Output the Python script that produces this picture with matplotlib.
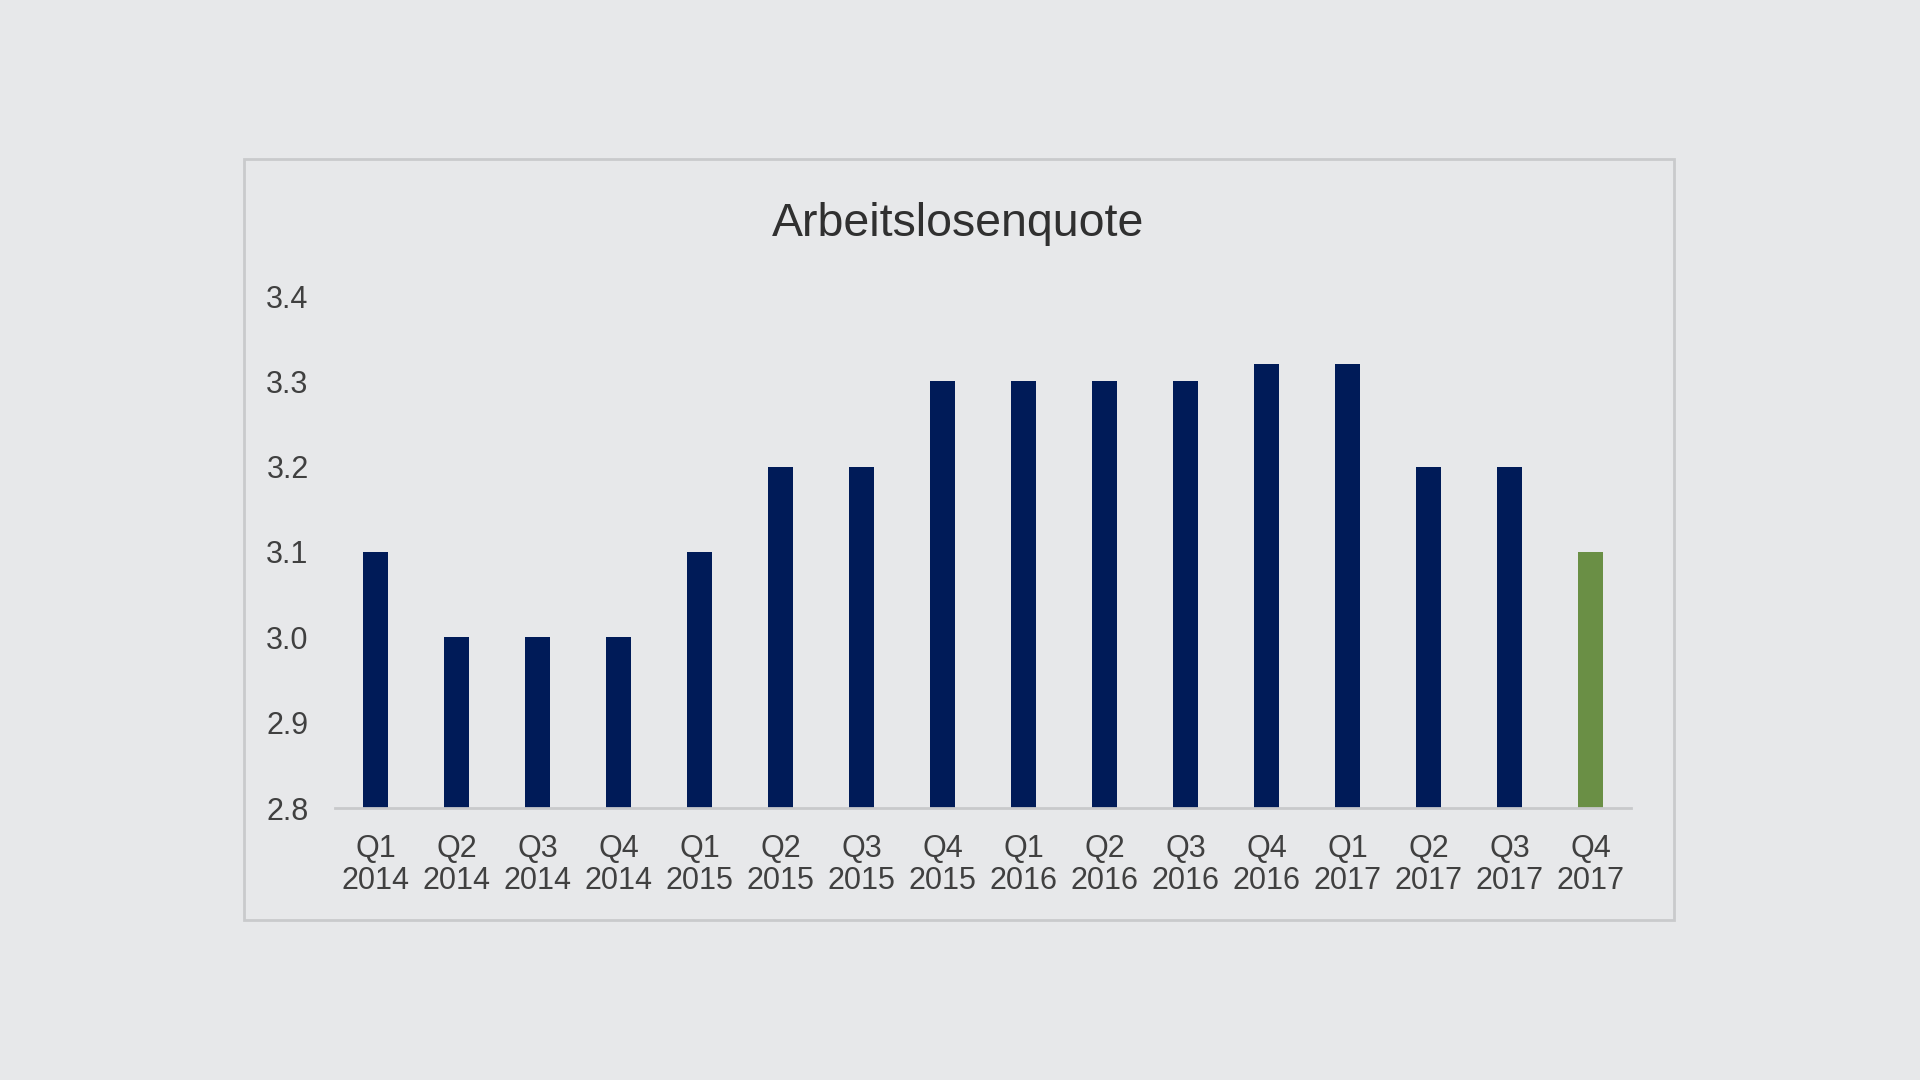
import matplotlib.pyplot as plt
from matplotlib.patches import Rectangle

quarters = ["Q1", "Q2", "Q3", "Q4"] * 4
years = ["2014"] * 4 + ["2015"] * 4 + ["2016"] * 4 + ["2017"] * 4
rates = [3.1, 3.0, 3.0, 3.0, 3.1, 3.2, 3.2, 3.3,
         3.3, 3.3, 3.3, 3.32, 3.32, 3.2, 3.2, 3.1]
y_ticks = [2.8, 2.9, 3.0, 3.1, 3.2, 3.3, 3.4]

bg = "#e7e8ea"
navy = "#001b58"
green = "#6a8f45"
text_color = "#404040"

plt.rcParams["font.family"] = ["Liberation Sans", "DejaVu Sans"]

fig = plt.figure(figsize=(19.2, 10.8), dpi=100, facecolor=bg)

# light frame around the chart area
fig.patches.append(Rectangle((244 / 1920, 1 - 920 / 1080), (1674 - 244) / 1920,
                             (920 - 159) / 1080, transform=fig.transFigure,
                             fill=False, edgecolor="#c9cacc", linewidth=2))

ax = fig.add_axes([335 / 1920, 1 - 808 / 1080, (1631 - 335) / 1920, (808 - 296) / 1080])
ax.set_facecolor(bg)

labels = [f"{q}\n{y}" for q, y in zip(quarters, years)]
colors = [navy] * (len(rates) - 1) + [green]
x = range(len(rates))
ax.bar(x, [r - 2.8 for r in rates], bottom=2.8, width=0.31, color=colors)

ax.set_xlim(-0.5, len(rates) - 0.5)
ax.set_ylim(2.8, 3.4)
ax.set_yticks(y_ticks)
ax.set_yticklabels([f"{v:.1f}" for v in y_ticks])
ax.set_xticks(list(x))
ax.set_xticklabels(labels, linespacing=1.07)

for side in ["top", "right", "left"]:
    ax.spines[side].set_visible(False)
ax.spines["bottom"].set_color("#c8c9cb")
ax.spines["bottom"].set_linewidth(2)

ax.tick_params(axis="y", length=0, pad=19, labelsize=22, labelcolor=text_color)
ax.tick_params(axis="x", length=0, pad=19, labelsize=22, labelcolor=text_color)

fig.text(958 / 1920, 1 - 224 / 1080, "Arbeitslosenquote", ha="center", va="center",
         fontsize=33.5, color="#303030")

fig.savefig("out.png", dpi=100, facecolor=bg)
